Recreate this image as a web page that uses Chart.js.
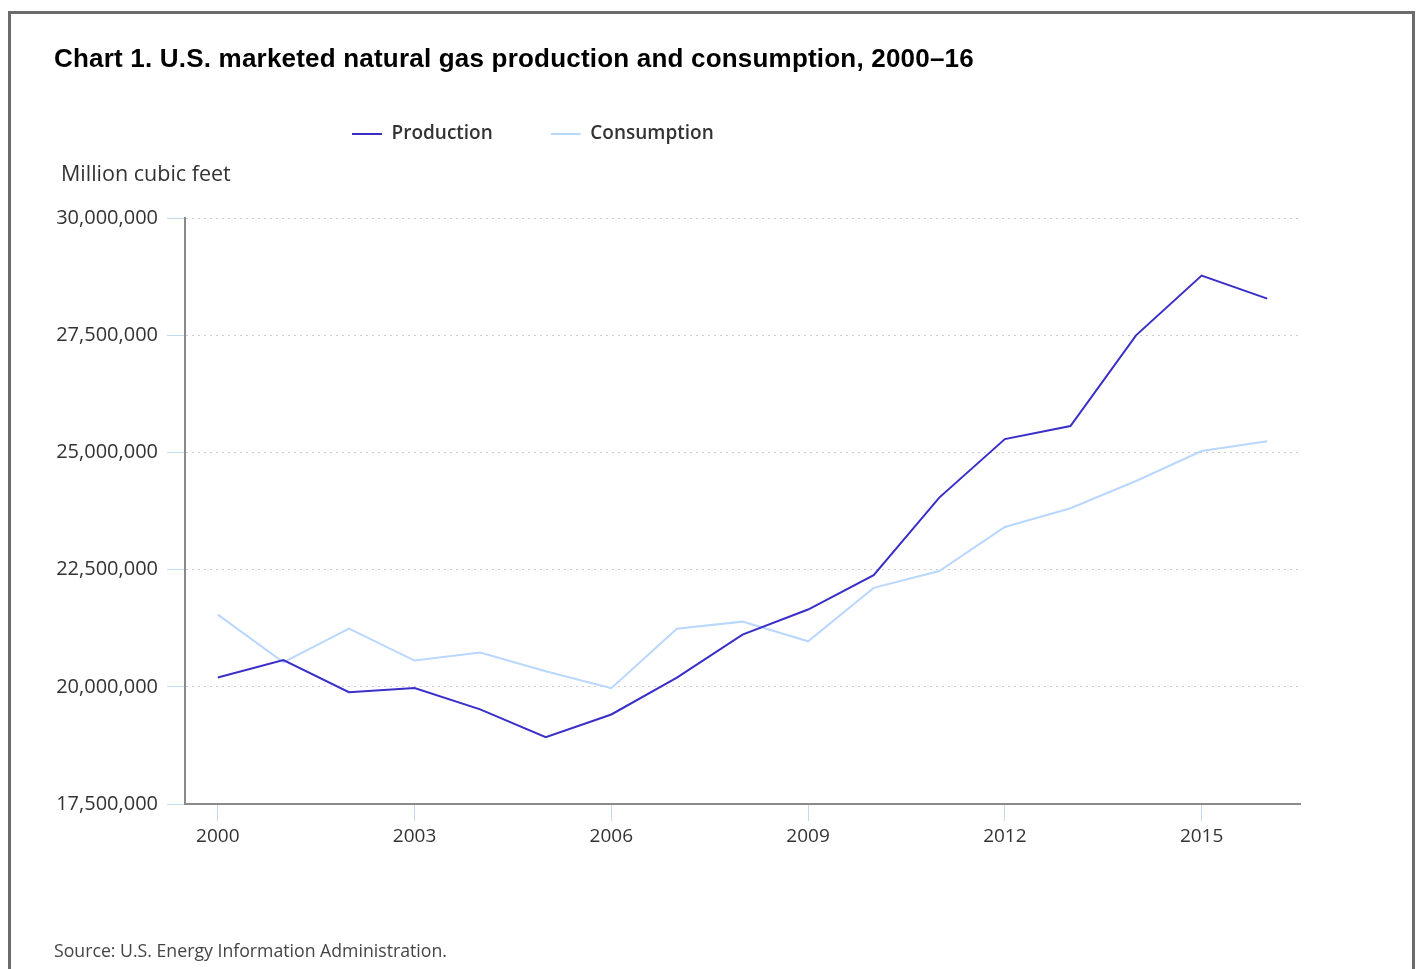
<!DOCTYPE html>
<html lang="en">
<head>
  <meta charset="UTF-8">
  <title>U.S. marketed natural gas production and consumption, 2000–16</title>
  <style>
    body {
      margin: 0;
      width: 1419px;
      height: 969px;
      overflow: hidden;
      background: #fff;
      position: relative;
      font-family: 'Open Sans', sans-serif;
    }
    .frame {
      position: absolute;
      left: 8px;
      top: 11px;
      width: 1401px;
      height: 1000px;
      border: 3px solid #6b6b6b;
      background: #fff;
    }
    #gasChart {
      position: absolute;
      left: 0;
      top: 0;
    }
    .title {
      position: absolute;
      left: 54px;
      top: 43px;
      font-family: 'Liberation Sans', Arial, sans-serif;
      font-weight: bold;
      font-size: 26px;
      letter-spacing: 0.2px;
      color: #000;
      z-index: 2;
    }
    .unit {
      position: absolute;
      left: 61px;
      top: 158px;
      font-size: 21.5px;
      color: #333;
      z-index: 2;
    }
    .source {
      position: absolute;
      left: 54px;
      top: 938px;
      font-size: 17.7px;
      color: #444;
      z-index: 2;
    }
  </style>
</head>
<body>
  <div class="frame"></div>
  <div class="title">Chart 1. U.S. marketed natural gas production and consumption, 2000–16</div>
  <div class="unit">Million cubic feet</div>
  <canvas id="gasChart" width="1419" height="969"></canvas>
  <div class="source">Source: U.S. Energy Information Administration.</div>

  <script src="https://cdn.jsdelivr.net/npm/chart.js"></script>
  <script>
    // data (million cubic feet)
    const years = ['2000', '2001', '2002', '2003', '2004', '2005', '2006', '2007', '2008',
                   '2009', '2010', '2011', '2012', '2013', '2014', '2015', '2016'];
    const production = [20197511, 20570295, 19884780, 19974360, 19517491, 18927095, 19409674,
                        20196346, 21112053, 21647936, 22381873, 24036352, 25283278, 25562232,
                        27497754, 28772034, 28280000];
    const consumption = [21540000, 20520000, 21240000, 20560000, 20730000, 20330000, 19970000,
                         21240000, 21390000, 20970000, 22110000, 22470000, 23410000, 23810000,
                         24390000, 25030000, 25240000];
    const yTicks = [17500000, 20000000, 22500000, 25000000, 27500000, 30000000];

    const legendPad = 58;
    const legendFont = 19;

    // move the legend row to where the original has it
    const legendPlacer = {
      id: 'legendPlacer',
      afterLayout(chart) {
        const lg = chart.legend;
        const w = lg.right - lg.left;
        lg.left = 352 - legendPad;
        lg.right = lg.left + w;
        const h = lg.bottom - lg.top;
        lg.top = 134 - legendPad - legendFont / 2;
        lg.bottom = lg.top + h;
      }
    };

    const ctx = document.getElementById('gasChart').getContext('2d');
    new Chart(ctx, {
      type: 'line',
      data: {
        labels: years,
        datasets: [{
          label: 'Production',
          data: production,
          borderColor: '#3a2ec8',
          backgroundColor: '#3a2ec8',
          borderWidth: 2,
          pointRadius: 0,
          tension: 0
        }, {
          label: 'Consumption',
          data: consumption,
          borderColor: '#b9d7ff',
          backgroundColor: '#b9d7ff',
          borderWidth: 2,
          pointRadius: 0,
          tension: 0
        }]
      },
      options: {
        responsive: false,
        animation: false,
        layout: {
          padding: { left: 0, right: 119, top: 131, bottom: 105 }
        },
        plugins: {
          legend: {
            position: 'top',
            align: 'start',
            labels: {
              boxWidth: 30,
              boxHeight: 0,
              padding: legendPad,
              color: '#333',
              font: { family: 'Open Sans', size: legendFont, weight: '600' }
            }
          },
          tooltip: { enabled: false }
        },
        scales: {
          x: {
            offset: true,
            afterFit(scale) { scale.height = 60; },
            grid: {
              offset: false,
              drawOnChartArea: false,
              tickLength: 17,
              tickColor: (c) => (c.index % 3 === 0 ? '#c3d9ee' : 'rgba(0,0,0,0)')
            },
            border: { color: '#8a8a8a', width: 2 },
            ticks: {
              autoSkip: false,
              maxRotation: 0,
              padding: 4,
              color: '#333',
              font: { family: 'Open Sans', size: 19 },
              callback: (v, i) => (i % 3 === 0 ? years[i] : '')
            }
          },
          y: {
            min: 17500000,
            max: 30000000,
            afterFit(scale) { scale.width = 185; },
            afterBuildTicks(scale) { scale.ticks = yTicks.map(v => ({ value: v })); },
            grid: {
              color: '#cccccc',
              tickLength: 18,
              tickColor: '#c3d9ee',
              tickBorderDash: []
            },
            border: { color: '#8a8a8a', width: 2, dash: [2, 4] },
            ticks: {
              padding: 9,
              color: '#333',
              font: { family: 'Open Sans', size: 20 },
              callback: (v) => v.toLocaleString('en-US')
            }
          }
        }
      },
      plugins: [legendPlacer]
    });
  </script>
</body>
</html>
